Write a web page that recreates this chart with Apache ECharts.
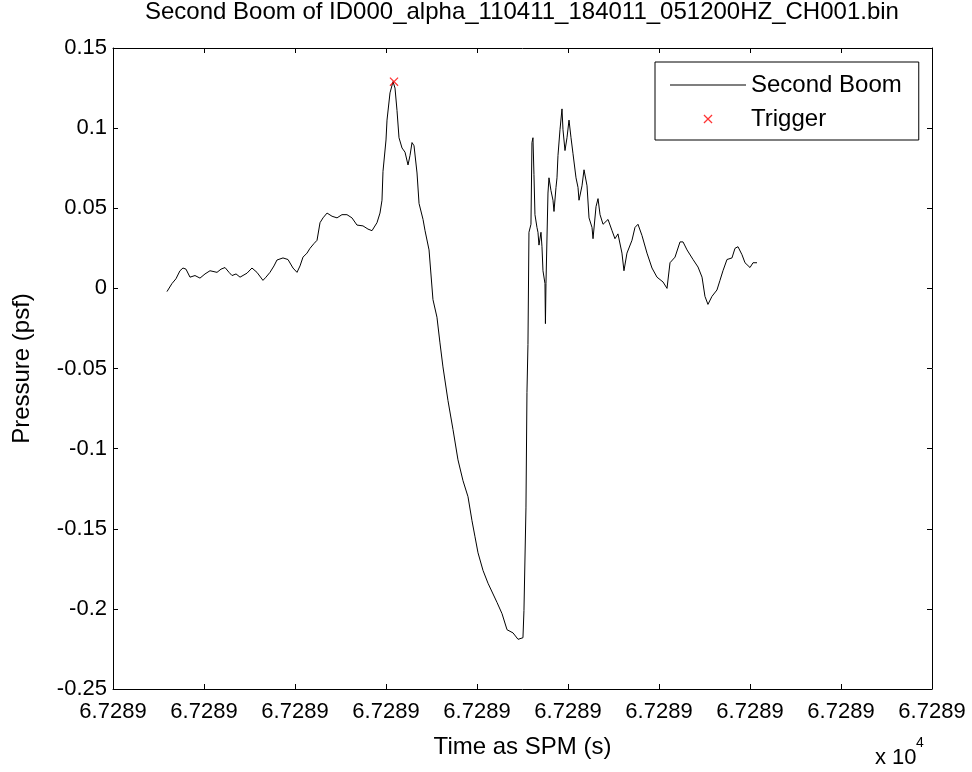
<!DOCTYPE html>
<html>
<head>
<meta charset="utf-8">
<script src="https://cdn.jsdelivr.net/npm/echarts@6/dist/echarts.min.js"></script>
<style>
  html, body { margin: 0; padding: 0; background: #fff; }
  #main { width: 972px; height: 772px; }
</style>
</head>
<body>
<div id="main"></div>
<script>
// x in tick units (10 ticks all printed as 6.7289 x 10^4)
var tickLabel = '6.7289';
var timeData = [
  0.593, 0.648, 0.692, 0.736, 0.769, 0.802, 0.846, 0.901, 0.956, 1.011,
  1.066, 1.143, 1.187, 1.231, 1.275, 1.308, 1.352, 1.396, 1.473, 1.527,
  1.582, 1.648, 1.681, 1.725, 1.769, 1.802, 1.868, 1.923, 1.978, 2.022,
  2.055, 2.088, 2.132, 2.165, 2.209, 2.242, 2.275, 2.308, 2.352, 2.407,
  2.462, 2.516, 2.571, 2.626, 2.681, 2.747, 2.802, 2.846, 2.901, 2.934,
  2.956, 2.967, 3.000, 3.011, 3.044, 3.077, 3.099, 3.121, 3.143, 3.176,
  3.209, 3.242, 3.264, 3.286, 3.308, 3.341, 3.363, 3.407, 3.429, 3.473,
  3.516, 3.560, 3.593, 3.626, 3.681, 3.736, 3.791, 3.846, 3.901, 3.945,
  3.978, 4.011, 4.066, 4.121, 4.220, 4.275, 4.330, 4.396, 4.451, 4.505,
  4.516, 4.538, 4.549, 4.560, 4.571, 4.593, 4.604, 4.615, 4.626, 4.637,
  4.659, 4.670, 4.681, 4.703, 4.714, 4.725, 4.747, 4.752, 4.758, 4.780,
  4.791, 4.813, 4.835, 4.846, 4.868, 4.879, 4.890, 4.912, 4.934, 4.945,
  4.967, 4.989, 5.011, 5.033, 5.055, 5.088, 5.110, 5.121, 5.154, 5.176,
  5.209, 5.231, 5.264, 5.275, 5.308, 5.330, 5.352, 5.385, 5.440, 5.484,
  5.516, 5.549, 5.593, 5.615, 5.648, 5.703, 5.736, 5.769, 5.813, 5.868,
  5.923, 5.978, 6.044, 6.088, 6.121, 6.176, 6.231, 6.264, 6.308, 6.374,
  6.429, 6.473, 6.505, 6.538, 6.582, 6.637, 6.670, 6.703, 6.747, 6.802,
  6.835, 6.868, 6.912, 6.945, 7.000, 7.033, 7.077
];
var pressureData = [
  -0.002, 0.003, 0.006, 0.011, 0.0127, 0.012, 0.007, 0.008, 0.0064, 0.009,
  0.011, 0.010, 0.012, 0.013, 0.010, 0.008, 0.009, 0.007, 0.0095, 0.0127,
  0.010, 0.005, 0.007, 0.010, 0.014, 0.0177, 0.019, 0.018, 0.0127, 0.010,
  0.014, 0.0195, 0.022, 0.025, 0.028, 0.030, 0.041, 0.044, 0.047, 0.045,
  0.044, 0.046, 0.046, 0.044, 0.0395, 0.039, 0.037, 0.036, 0.041, 0.047,
  0.055, 0.073, 0.0926, 0.105, 0.122, 0.129, 0.125, 0.111, 0.094, 0.0876,
  0.085, 0.077, 0.083, 0.091, 0.089, 0.072, 0.053, 0.043, 0.036, 0.024,
  -0.007, -0.018, -0.034, -0.049, -0.070, -0.088, -0.107, -0.120, -0.130, -0.145,
  -0.155, -0.165, -0.176, -0.184, -0.196, -0.203, -0.213, -0.215, -0.219, -0.218,
  -0.201, -0.137, -0.065, -0.035, 0.035, 0.040, 0.091, 0.094, 0.071, 0.046,
  0.038, 0.035, 0.027, 0.035, 0.026, 0.011, 0.003, -0.022, 0.003, 0.0595,
  0.069, 0.061, 0.055, 0.048, 0.063, 0.069, 0.083, 0.099, 0.112, 0.099,
  0.086, 0.094, 0.105, 0.094, 0.084, 0.069, 0.063, 0.055, 0.064, 0.074,
  0.064, 0.044, 0.038, 0.031, 0.051, 0.056, 0.046, 0.040, 0.043, 0.036,
  0.031, 0.034, 0.022, 0.011, 0.022, 0.030, 0.038, 0.040, 0.033, 0.022,
  0.0127, 0.007, 0.004, 0.000, 0.016, 0.0195, 0.029, 0.029, 0.024, 0.018,
  0.0133, 0.007, -0.005, -0.010, -0.005, -0.001, 0.005, 0.011, 0.018, 0.019,
  0.025, 0.026, 0.021, 0.016, 0.013, 0.016, 0.016
];
var triggerTime = [3.088];
var triggerPressure = [0.129];

var crossIcon = 'path://M0,1L1,0L10,9L9,10Z M9,0L10,1L1,10L0,9Z';
var lineIcon = 'path://M0,0L76,0L76,1L0,1Z';
var fontFamily = 'Liberation Sans, Arial, sans-serif';

var boomSeries = [];
for (var i = 0; i < timeData.length; i++) {
  boomSeries.push([timeData[i], pressureData[i]]);
}
var triggerSeries = [];
for (var j = 0; j < triggerTime.length; j++) {
  triggerSeries.push([triggerTime[j], triggerPressure[j]]);
}

var myChart = echarts.init(document.getElementById('main'));

var axisLine = { show: true, onZero: false, lineStyle: { color: '#000', width: 1 } };
var axisTick = { show: true, inside: true, length: 5, lineStyle: { color: '#000' } };

option = {
  backgroundColor: '#fff',
  animation: false,
  textStyle: { fontFamily: fontFamily },
  grid: { left: 113, right: 40, top: 48, bottom: 83, containLabel: false },
  legend: {
    left: 655,
    top: 62,
    orient: 'vertical',
    backgroundColor: '#fff',
    borderColor: '#000',
    borderWidth: 1,
    borderRadius: 0,
    padding: [11, 17, 9, 15],
    itemWidth: 76,
    itemHeight: 9,
    itemGap: 10,
    textStyle: { color: '#000', fontSize: 24, fontFamily: fontFamily },
    data: [
      { name: 'Second Boom', icon: lineIcon },
      { name: 'Trigger', icon: crossIcon }
    ]
  },
  graphic: [
    {
      type: 'text', left: 145, top: 0,
      style: {
        text: 'Second Boom of ID000_alpha_110411_184011_051200HZ_CH001.bin',
        fill: '#000', font: '24px ' + fontFamily
      }
    },
    {
      type: 'text', left: 875, top: 747,
      style: { text: 'x 10', fill: '#000', font: '22px ' + fontFamily }
    },
    {
      type: 'text', left: 916, top: 736,
      style: { text: '4', fill: '#000', font: '14px ' + fontFamily }
    }
  ],
  xAxis: [
    {
      type: 'value', min: 0, max: 9, interval: 1,
      name: 'Time as SPM (s)', nameLocation: 'middle', nameGap: 46,
      nameTextStyle: { color: '#000', fontSize: 24 },
      axisLine: axisLine, axisTick: axisTick,
      axisLabel: { color: '#000', fontSize: 22, margin: 12, formatter: function () { return tickLabel; } },
      splitLine: { show: false }
    },
    {
      type: 'value', min: 0, max: 9, interval: 1, position: 'top',
      axisLine: axisLine, axisTick: axisTick,
      axisLabel: { show: false }, splitLine: { show: false }
    }
  ],
  yAxis: [
    {
      type: 'value', min: -0.25, max: 0.15, interval: 0.05,
      name: 'Pressure (psf)', nameLocation: 'middle', nameGap: 79, nameRotate: 90,
      nameTextStyle: { color: '#000', fontSize: 24 },
      axisLine: axisLine, axisTick: axisTick,
      axisLabel: { color: '#000', fontSize: 22, margin: 6 },
      splitLine: { show: false }
    },
    {
      type: 'value', min: -0.25, max: 0.15, interval: 0.05, position: 'right',
      axisLine: axisLine, axisTick: axisTick,
      axisLabel: { show: false }, splitLine: { show: false }
    }
  ],
  series: [
    {
      name: 'Second Boom', type: 'line', data: boomSeries,
      symbol: 'none', showSymbol: false,
      lineStyle: { color: '#000', width: 1 }, itemStyle: { color: '#000' }
    },
    {
      name: 'Trigger', type: 'scatter', data: triggerSeries,
      symbol: crossIcon, symbolSize: 9,
      itemStyle: { color: '#ff0000' }, z: 5
    }
  ]
};

myChart.setOption(option);
</script>
</body>
</html>
